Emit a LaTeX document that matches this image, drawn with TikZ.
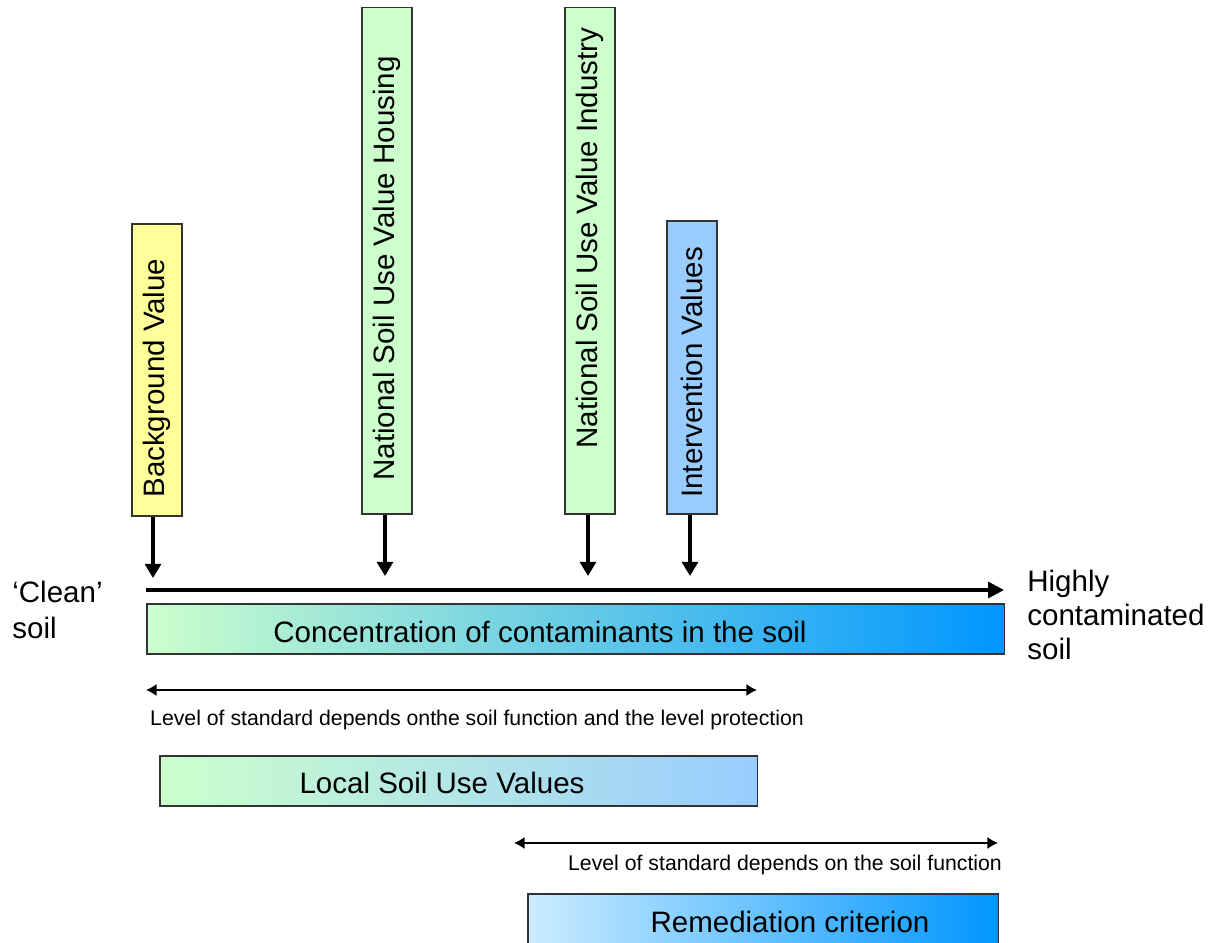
\documentclass[tikz,border=0pt]{standalone}
\usepackage{fontspec}
\setmainfont{Liberation Sans}
\usetikzlibrary{arrows.meta}
\usetikzlibrary{positioning}

\definecolor{paleyellow}{RGB}{255,255,153}
\definecolor{palegreen}{RGB}{204,255,204}
\definecolor{midblue}{RGB}{153,204,255}
\definecolor{deepblue}{RGB}{0,150,255}
\definecolor{paleblue}{RGB}{204,236,255}
\definecolor{tealmix}{RGB}{168,230,222}

\begin{document}
\begin{tikzpicture}[x=0.02cm, y=-0.02cm,
  vbox/.style={draw=black!80, line width=0.9pt, minimum width=1cm, inner sep=0pt, anchor=south},
  hbar/.style={draw=black!80, line width=0.9pt, minimum height=1cm, inner sep=0pt, anchor=north west},
  vtext/.style={rotate=90, anchor=west, inner sep=0pt, font=\fontsize{16.8}{19}\selectfont},
  btext/.style={inner sep=0pt, font=\fontsize{16.8}{19}\selectfont},
  stext/.style={inner sep=0pt, font=\fontsize{12.1}{14}\selectfont},
  drop/.style={line width=1.9pt, -{Triangle[width=9pt,length=8pt]}},
  span/.style={line width=1.4pt, {Latex[width=7pt,length=6pt]}-{Latex[width=7pt,length=6pt]}}]

\useasboundingbox (0,0) rectangle (1214,943);

% limit values
\node[vbox, fill=paleyellow, minimum height=5.84cm] (bg) at (157,517) {};
\node[vbox, fill=palegreen, minimum height=10.14cm] (house) at (387,515) {};
\node[vbox, fill=palegreen, minimum height=10.14cm] (ind) at (590,515) {};
\node[vbox, fill=midblue, minimum height=5.86cm] (interv) at (692,515) {};

\node[vtext] (bgtxt) at (157,498) {Background Value};
\node[vtext] (housetxt) at (387,481) {National Soil Use Value Housing};
\node[vtext] (indtxt) at (590,449) {National Soil Use Value Industry};
\node[vtext] (intervtxt) at (692,498) {Intervention Values};

% axis
\coordinate (axL) at (146,590);
\coordinate (axR) at (1004,590);
\draw[line width=1.9pt, -{Triangle[width=9pt,length=9pt]}] (axL) -- (axR);

\coordinate (bgtip) at (153,578);
\coordinate (housetip) at (385,576);
\coordinate (indtip) at (588,576);
\coordinate (intervtip) at (690,576);
\draw[drop] (bg.south -| bgtip) -- (bgtip);
\draw[drop] (house.south -| housetip) -- (housetip);
\draw[drop] (ind.south -| indtip) -- (indtip);
\draw[drop] (interv.south -| intervtip) -- (intervtip);

% concentration bar
\node[hbar, minimum width=17.16cm, left color=palegreen, middle color=tealmix, right color=deepblue] (conc) at (146,603) {};
\node[btext] (conctxt) at (540,632) {Concentration of contaminants in the soil};

\node[btext, anchor=west, align=left] (clean) at (12,610) {‘Clean’\\[1.5pt]soil};
\node[btext, anchor=west, align=left] (high) at (1027,615) {Highly\\[0.4pt]contaminated\\[0.4pt]soil};

% local values
\coordinate (locL) at (146,690);
\coordinate (locR) at (757,690);
\draw[span] (locL) -- (locR);
\node[stext] (loctxt) at (477,720) {Level of standard depends onthe soil function and the level protection};
\node[hbar, minimum width=11.96cm, left color=palegreen, right color=midblue] (local) at (159,755) {};
\node[btext] (localtxt) at (442,783) {Local Soil Use Values};

% remediation
\coordinate (remL) at (514,843);
\coordinate (remR) at (998,843);
\draw[span] (remL) -- (remR);
\node[stext] (remtxt) at (785,865) {Level of standard depends on the soil function};
\node[hbar, minimum width=9.42cm, left color=paleblue, right color=deepblue] (remed) at (527,893) {};
\node[btext] (remedtxt) at (790,922) {Remediation criterion};

\end{tikzpicture}
\end{document}
